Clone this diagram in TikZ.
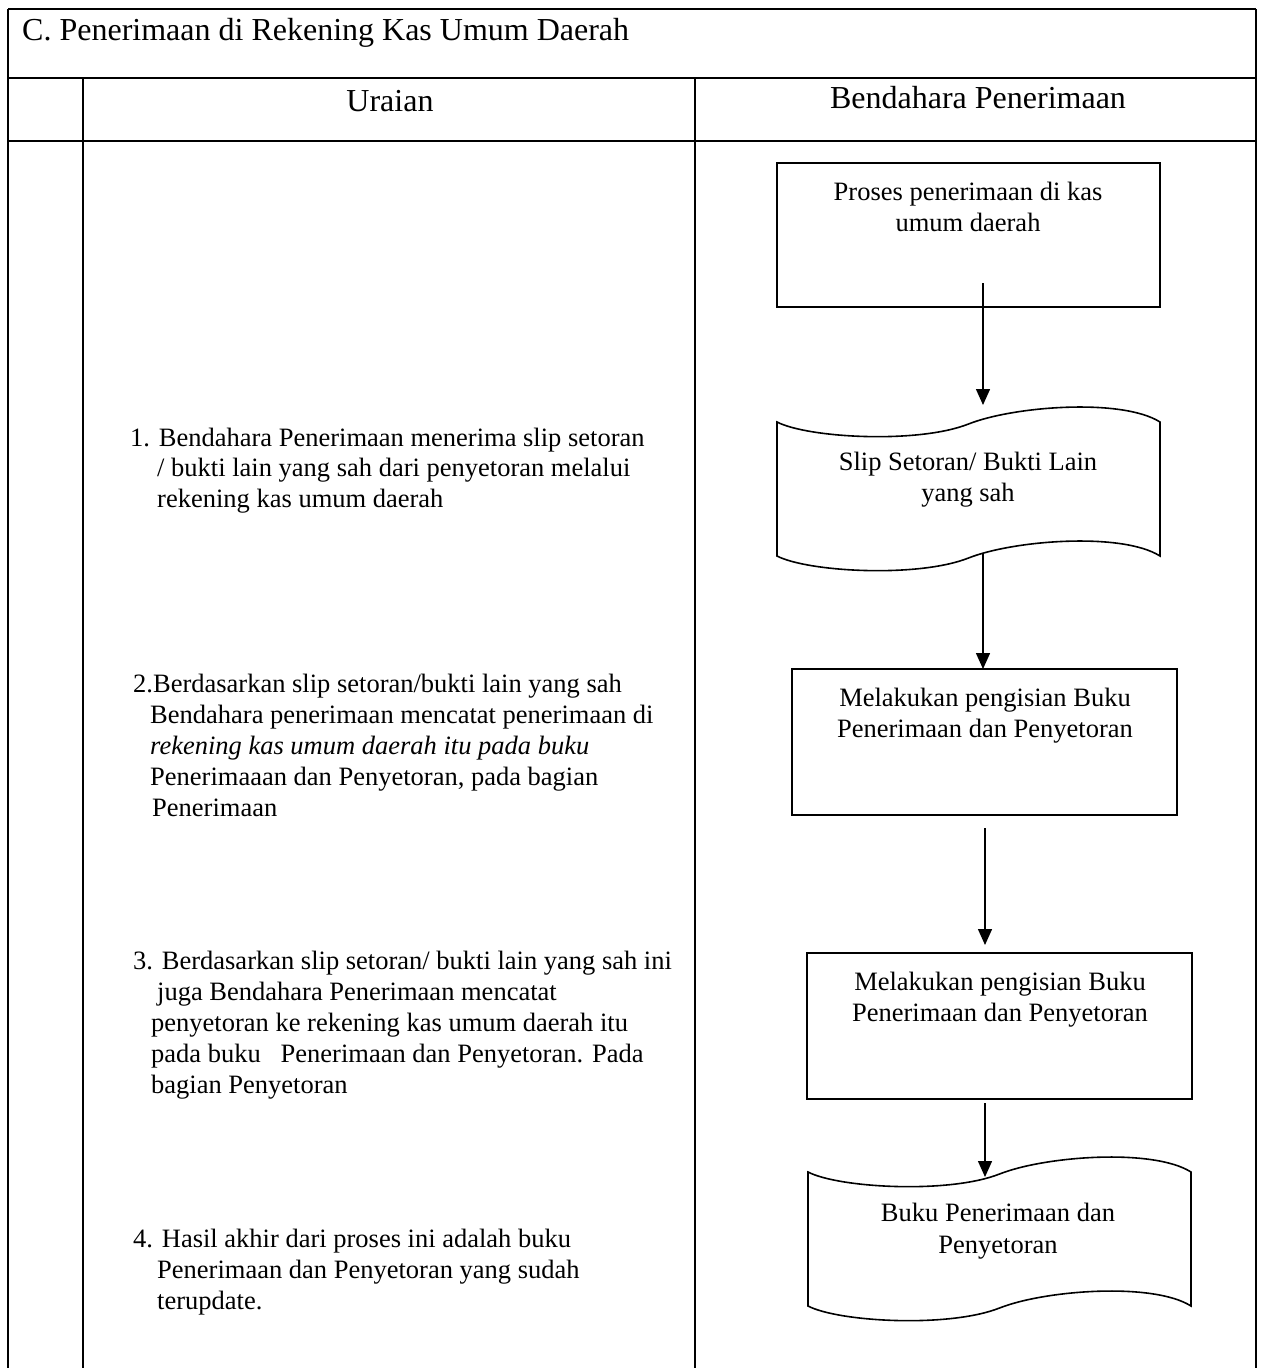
\documentclass[tikz,border=0pt]{standalone}
\usepackage{fontspec}
\setmainfont{Liberation Serif}
\usetikzlibrary{arrows.meta}
\newcommand{\tapeshape}[3]{% #1 = left x, #2 = top y, #3 = bottom y
  \draw[shapeline] (#1,#2) .. controls ({#1+31},{#2+16}) and ({#1+141},{#2+22}) .. ({#1+191.5},{#2+2})
    .. controls ({#1+237},{#2-16}) and ({#1+345},{#2-24}) .. ({#1+383},#2)
    -- ({#1+383},#3) .. controls ({#1+345},{#3-24}) and ({#1+237},{#3-16}) .. ({#1+191.5},{#3+2})
    .. controls ({#1+141},{#3+22}) and ({#1+31},{#3+16}) .. (#1,#3) -- cycle;}
\begin{document}
\begin{tikzpicture}[x=1pt,y=-1pt,
  tbl/.style={line width=1.1pt, black},
  shapeline/.style={line width=1.6pt, black},
  procbox/.style={draw, line width=1.6pt, inner sep=0pt, outer sep=0pt},
  arr/.style={line width=1.4pt, -{Triangle[length=16pt,width=14pt]}},
  body/.style={font=\fontsize{26.5}{31}\selectfont, inner sep=0pt, anchor=base west},
  ctext/.style={font=\fontsize{26.5}{31}\selectfont, inner sep=0pt, anchor=base},
  head/.style={font=\fontsize{32}{38}\selectfont, inner sep=0pt, anchor=base}
]
\useasboundingbox (0,0) rectangle (1261,1368);
\fill[white] (0,0) rectangle (1261,1368);

% table grid
\draw[tbl] (8,9) -- (1256,9);
\draw[tbl] (8,9) -- (8,1368);
\draw[tbl] (1256,9) -- (1256,1368);
\draw[tbl] (8,78) -- (1256,78);
\draw[tbl] (8,141) -- (1256,141);
\draw[tbl] (83,78) -- (83,1368);
\draw[tbl] (695,78) -- (695,1368);

% headers
\node[head, anchor=base west] (title) at (22,40) {C. Penerimaan di Rekening Kas Umum Daerah};
\node[head] (huraian) at (390,111) {Uraian};
\node[head] (hbend) at (978,108) {Bendahara Penerimaan};

% left column texts
\node[body] (t1a) at (130,446) {1. Bendahara Penerimaan menerima slip setoran};
\node[body] (t1b) at (157,476) {/ bukti lain yang sah dari penyetoran melalui};
\node[body] (t1c) at (157,507) {rekening kas umum daerah};

\node[body] (t2a) at (133,692) {2.Berdasarkan slip setoran/bukti lain yang sah};
\node[body] (t2b) at (150,723) {Bendahara penerimaan mencatat penerimaan di};
\node[body] (t2c) at (150,754) {\itshape rekening kas umum daerah itu pada buku};
\node[body] (t2d) at (150,785) {Penerimaaan dan Penyetoran, pada bagian};
\node[body] (t2e) at (152,816) {Penerimaan};

\node[body] (t3a) at (133,969) {3. Berdasarkan slip setoran/ bukti lain yang sah ini};
\node[body] (t3b) at (157,1000) {juga Bendahara Penerimaan mencatat};
\node[body] (t3c) at (151,1031) {penyetoran ke rekening kas umum daerah itu};
\node[body] (t3d) at (151,1062) {pada buku \ \ Penerimaan dan Penyetoran. Pada};
\node[body] (t3e) at (151,1093) {bagian Penyetoran};

\node[body] (t4a) at (133,1247) {4. Hasil akhir dari proses ini adalah buku};
\node[body] (t4b) at (157,1278) {Penerimaan dan Penyetoran yang sudah};
\node[body] (t4c) at (157,1309) {terupdate.};

% right column: boxes
\node[procbox, minimum width=383pt, minimum height=144pt] (b1) at (968.5,235) {};
\node[ctext] (b1a) at (968,200) {Proses penerimaan di kas};
\node[ctext] (b1b) at (968,231) {umum daerah};

% slip document shape
\tapeshape{777}{422}{556}
\coordinate (slipin) at (983,405);
\coordinate (slipout) at (983,553);
\node[ctext] (s1a) at (968,470) {Slip Setoran/ Bukti Lain};
\node[ctext] (s1b) at (968,501) {yang sah};

\node[procbox, minimum width=385pt, minimum height=146pt] (b2) at (984.5,742) {};
\node[ctext] (b2a) at (985,706) {Melakukan pengisian Buku};
\node[ctext] (b2b) at (985,737) {Penerimaan dan Penyetoran};

\node[procbox, minimum width=385pt, minimum height=146pt] (b3) at (999.5,1026) {};
\node[ctext] (b3a) at (1000,990) {Melakukan pengisian Buku};
\node[ctext] (b3b) at (1000,1021) {Penerimaan dan Penyetoran};

% buku document shape
\tapeshape{808}{1172}{1306}
\coordinate (bukuin) at (985,1177);
\node[ctext] (d2a) at (998,1221) {Buku Penerimaan dan};
\node[ctext] (d2b) at (998,1253) {Penyetoran};

% connectors
\coordinate (a1s) at (983,283);
\coordinate (a3s) at (985,828);
\coordinate (a3e) at (985,945);
\coordinate (a4s) at (985,1103);
\draw[arr] (a1s) -- (slipin);
\draw[arr] (slipout) -- (slipout |- b2.north);
\draw[arr] (a3s) -- (a3e);
\draw[arr] (a4s) -- (bukuin);
\end{tikzpicture}
\end{document}
